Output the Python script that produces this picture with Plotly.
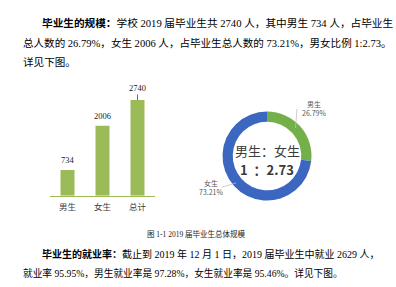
import plotly.graph_objects as go

W, H = 396, 287

# data
bar_cats = ["男生", "女生", "总计"]
bar_vals = [734, 2006, 2740]
pie_labels = ["男生", "女生"]
pie_vals = [734, 2006]
pie_pcts = ["26.79%", "73.21%"]

para1 = ["<b>毕业生的规模：</b>学校 2019 届毕业生共 2740 人，其中男生 734 人，占毕业生",
         "总人数的 26.79%，女生 2006 人，占毕业生总人数的 73.21%，男女比例 1:2.73。",
         "详见下图。"]
caption = "图 1-1 2019 届毕业生总体规模"
para2 = ["<b>毕业生的就业率：</b>截止到 2019 年 12 月 1 日，2019 届毕业生中就业 2629 人，",
         "就业率 95.95%，男生就业率是 97.28%，女生就业率是 95.46%。详见下图。"]

SERIF = "Liberation Serif, Noto Sans CJK SC"
SANS = "Noto Sans CJK SC, Noto Sans"

def px(x):
    return x / W

def py(y):
    return 1 - y / H

fig = go.Figure()

fig.add_trace(go.Bar(
    x=bar_cats, y=bar_vals, width=0.4,
    marker=dict(color="#9BBB59", line=dict(width=0)),
    xaxis="x", yaxis="y", showlegend=False, hoverinfo="skip"))

fig.add_trace(go.Pie(
    labels=pie_labels, values=pie_vals, sort=False, direction="clockwise",
    rotation=0, hole=0.77, textinfo="none", showlegend=False,
    marker=dict(colors=["#74B04A", "#3C67C1"], line=dict(width=0)),
    domain=dict(x=[px(222.5), px(311.5)], y=[py(200.5), py(111.5)])))

annotations = []
for i, (c, v) in enumerate(zip(bar_cats, bar_vals)):
    if i == 2:
        annotations.append(dict(x=c, y=v, xref="x", yref="y", text=str(v),
                                showarrow=True, arrowhead=0, arrowwidth=0.8,
                                arrowcolor="#404040", ax=0, ay=-12, standoff=0,
                                font=dict(family=SERIF, size=8.5, color="#222")))
    else:
        annotations.append(dict(x=c, y=v, xref="x", yref="y", text=str(v),
                                showarrow=False, yshift=10,
                                font=dict(family=SERIF, size=8.5, color="#222")))

# paragraphs (per-line sizes emulate the justified layout of the original)
ys1 = [23, 43, 62]
xs1 = [40, 21, 21]
fs1 = [10.65, 10.55, 10.6]
for t, x, y, s in zip(para1, xs1, ys1, fs1):
    annotations.append(dict(x=px(x), y=py(y), xref="paper", yref="paper",
                            xanchor="left", yanchor="middle", showarrow=False,
                            text=t, font=dict(family=SERIF, size=s, color="#000")))
ys2 = [254, 273]
xs2 = [40, 21]
fs2 = [10.0, 9.7]
for t, x, y, s in zip(para2, xs2, ys2, fs2):
    annotations.append(dict(x=px(x), y=py(y), xref="paper", yref="paper",
                            xanchor="left", yanchor="middle", showarrow=False,
                            text=t, font=dict(family=SERIF, size=s, color="#000")))

annotations.append(dict(x=px(196), y=py(234), xref="paper", yref="paper",
                        xanchor="center", yanchor="middle", showarrow=False,
                        text=caption, font=dict(family=SERIF, size=7.5, color="#222")))

annotations.append(dict(x=px(267), y=py(150.5), xref="paper", yref="paper",
                        xanchor="center", yanchor="middle", showarrow=False,
                        text="男生：女生", font=dict(family=SANS, size=13, color="#3a3a3a")))
annotations.append(dict(x=px(267), y=py(169.5), xref="paper", yref="paper",
                        xanchor="center", yanchor="middle", showarrow=False,
                        text="<b>1  ：2.73</b>", font=dict(family=SANS, size=13, color="#3a3a3a")))

annotations.append(dict(x=px(314), y=py(108), xref="paper", yref="paper",
                        xanchor="center", yanchor="middle", showarrow=False,
                        text=pie_labels[0] + "<br>" + pie_pcts[0],
                        font=dict(family=SANS, size=7, color="#595959")))
annotations.append(dict(x=px(211), y=py(188), xref="paper", yref="paper",
                        xanchor="center", yanchor="middle", showarrow=False,
                        text=pie_labels[1] + "<br>" + pie_pcts[1],
                        font=dict(family=SANS, size=7, color="#595959")))

shapes = [
    dict(type="line", xref="paper", yref="paper", x0=px(297), y0=py(109),
         x1=px(295.5), y1=py(128), line=dict(color="#bfbfbf", width=0.8)),
    dict(type="line", xref="paper", yref="paper", x0=px(222), y0=py(187),
         x1=px(236), y1=py(183), line=dict(color="#bfbfbf", width=0.8)),
]

fig.update_layout(
    width=W, height=H, margin=dict(l=0, r=0, t=0, b=0),
    paper_bgcolor="white", plot_bgcolor="white",
    xaxis=dict(domain=[px(50), px(155)], range=[-0.5, 2.5], showgrid=False,
               showline=True, linecolor="#9BBB59", linewidth=1.2, ticks="",
               ticklabelstandoff=3,
               tickfont=dict(family=SANS, size=8.5, color="#404040"),
               anchor="y", fixedrange=True),
    yaxis=dict(domain=[py(195.7), py(80)], range=[0, 3315], visible=False,
               anchor="x", fixedrange=True),
    annotations=annotations, shapes=shapes, bargap=0.6,
)

fig.write_html("out.html")
